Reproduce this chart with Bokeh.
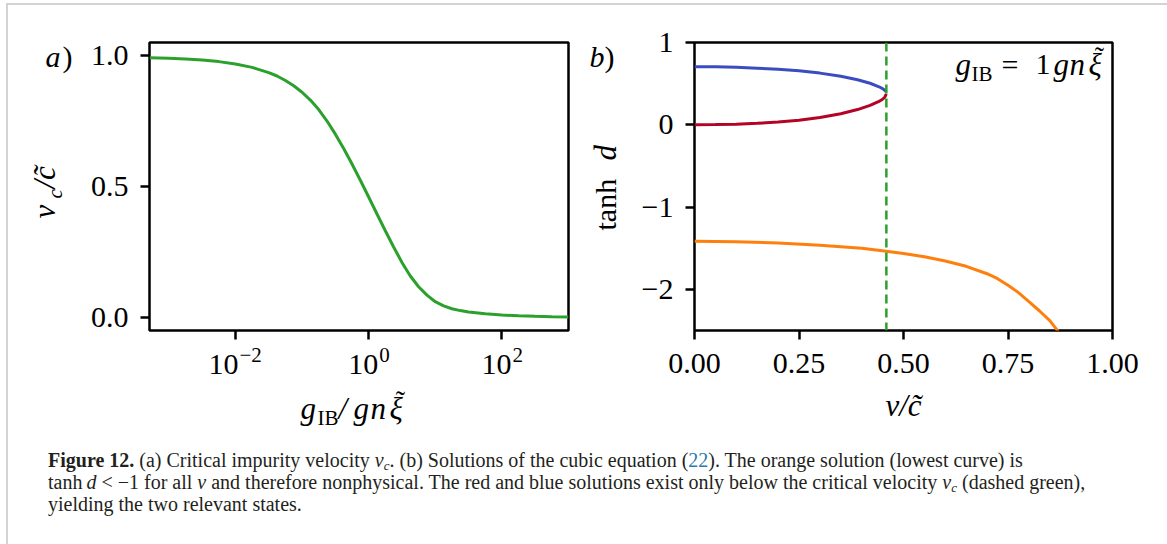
from bokeh.plotting import figure
from bokeh.models import Label, Range1d, FixedTicker, Span, Div, CustomJSTickFormatter
from bokeh.layouts import row, column
from bokeh.embed import file_html
from bokeh.resources import INLINE
import math

# ---------------- data ----------------
log_g_ib = [-3.29, -3.0, -2.75, -2.5, -2.25, -2.0, -1.75, -1.5, -1.375, -1.25, -1.125, -1.0,
            -0.875, -0.75, -0.625, -0.5, -0.375, -0.25, -0.125, 0.0, 0.125, 0.25, 0.375, 0.5,
            0.625, 0.75, 0.875, 1.0, 1.125, 1.25, 1.375, 1.5, 1.75, 2.0, 2.25, 2.5, 2.75, 3.0]
v_crit = [0.992, 0.990, 0.987, 0.983, 0.977, 0.968, 0.955, 0.935, 0.922, 0.905, 0.885, 0.860,
          0.830, 0.794, 0.750, 0.700, 0.645, 0.586, 0.524, 0.460, 0.395, 0.331, 0.269, 0.210,
          0.158, 0.117, 0.085, 0.060, 0.044, 0.033, 0.026, 0.021, 0.014, 0.009, 0.006, 0.004,
          0.0025, 0.0015]

v_blue = [0.0, 0.05, 0.1, 0.15, 0.2, 0.25, 0.3, 0.35, 0.39, 0.42, 0.44, 0.45, 0.455, 0.459]
tanh_blue = [0.706, 0.704, 0.698, 0.688, 0.676, 0.656, 0.628, 0.590, 0.548, 0.505, 0.465, 0.440, 0.420, 0.400]
v_red = [0.0, 0.05, 0.1, 0.15, 0.2, 0.25, 0.3, 0.35, 0.39, 0.42, 0.44, 0.45, 0.455, 0.459]
tanh_red = [0.0, 0.002, 0.008, 0.018, 0.033, 0.055, 0.088, 0.135, 0.185, 0.235, 0.280, 0.310, 0.335, 0.375]
v_orange = [0.0, 0.1, 0.2, 0.3, 0.4, 0.459, 0.5, 0.55, 0.6, 0.65, 0.7, 0.725, 0.75, 0.775,
            0.8, 0.825, 0.85, 0.87]
tanh_orange = [-1.416, -1.421, -1.437, -1.463, -1.500, -1.537, -1.565, -1.603, -1.655, -1.720,
               -1.810, -1.870, -1.950, -2.040, -2.150, -2.260, -2.380, -2.510]
v_critical = 0.459

a_xticks = [1e-2, 1.0, 1e2]
a_xtick_exps = ["\u22122", "0", "2"]
a_yticks = [0.0, 0.5, 1.0]
b_xticks = [0.0, 0.25, 0.5, 0.75, 1.0]
b_yticks = [-2, -1, 0, 1]

# ---------------- layout constants (page pixels) ----------------
FONT = "Liberation Serif"
TS = 30
MS = 31          # math italic size
SS = 21          # sub/superscript size
K_BASE = 0.37    # anchor correction (fraction of font size) so that y is the glyph baseline
LOG_MIN, LOG_MAX = -3.29, 3.0
OX, OY = 8, 5                      # content origin inside the grey border
A_L, A_R = 149, 568                # panel a frame
B_L, B_R = 694, 1112               # panel b frame
F_T, F_B = 42, 330                 # frame top / bottom
ROT = math.pi / 2


def ident(v):
    return v


def bx(px):
    return (px - B_L) / (B_R - B_L)


def by(py):
    return 1.0 - (py - F_T) / (F_B - F_T) * 3.5


def lab(p, px, py, text, size=TS, style="normal", align="left", angle=0.0, fx=ident, fy=ident):
    # (px, py) = page position of the start of the glyph baseline
    if angle:
        px -= K_BASE * size
    else:
        py -= K_BASE * size
    p.add_layout(Label(x=fx(px), y=fy(py), text=text, text_font=FONT,
                       text_font_size=f"{size}px", text_font_style=style, text_align=align,
                       text_baseline="alphabetic", angle=angle, text_color="black"))


def strip(left, top, w, h):
    # text-only area whose data coordinates are page pixels
    s = figure(width=w, height=h, x_range=Range1d(left, left + w), y_range=Range1d(top + h, top),
               min_border=0, toolbar_location=None, output_backend="svg",
               x_axis_location=None, y_axis_location=None, frame_align=False)
    s.outline_line_color = None
    s.background_fill_color = "white"
    s.border_fill_color = "white"
    s.xgrid.visible = False
    s.ygrid.visible = False
    return s


def style_axes(p):
    p.outline_line_color = "black"
    p.outline_line_width = 2.5
    p.xgrid.visible = False
    p.ygrid.visible = False
    p.background_fill_color = "white"
    p.border_fill_color = "white"
    for axis in (p.xaxis[0], p.yaxis[0]):
        axis.axis_line_color = None
        axis.major_tick_line_color = "black"
        axis.major_tick_line_width = 2.5
        axis.major_tick_out = 9
        axis.major_tick_in = 0
        axis.minor_tick_line_color = None
        axis.major_label_text_font = FONT
        axis.major_label_text_font_size = f"{TS}px"
        axis.major_label_text_color = "black"


# ---------------- panel a ----------------
SA_W = 76 - OX                      # left text strip of panel a
PA_ML, PA_MR, PA_MT, PA_MB = A_L - 76, 18, F_T - OY, 14
pa = figure(x_axis_type="log", x_range=Range1d(10 ** LOG_MIN, 10 ** LOG_MAX),
            y_range=Range1d(-0.05, 1.05), frame_width=A_R - A_L, frame_height=F_B - F_T,
            min_border_left=PA_ML, min_border_right=PA_MR, min_border_top=PA_MT,
            min_border_bottom=PA_MB, output_backend="svg", toolbar_location=None,
            frame_align=False)
style_axes(pa)
pa.xaxis.ticker = FixedTicker(ticks=a_xticks, minor_ticks=[])
pa.xaxis.formatter = CustomJSTickFormatter(code="return ''")
pa.xaxis.major_label_text_font_size = "1px"
pa.xaxis.major_label_standoff = 0
pa.yaxis.ticker = FixedTicker(ticks=a_yticks, minor_ticks=[])
pa.yaxis.major_label_overrides = {0.0: "0.0", 0.5: "0.5", 1.0: "1.0"}
pa.yaxis.major_label_standoff = 12

g_vals = [10 ** e for e in log_g_ib]
pa.line(g_vals, v_crit, line_color="#2ca02c", line_width=3)

PA_H = PA_MT + (F_B - F_T) + PA_MB
PA_W = PA_ML + (A_R - A_L) + PA_MR
sa_left = strip(OX, OY, SA_W, PA_H)
lab(sa_left, 45, 67, "a", TS, "italic")
lab(sa_left, 62, 67, ")", TS)
lab(sa_left, 55, 218, "v", MS, "italic", angle=ROT)
lab(sa_left, 62, 198, "c", SS, "italic", angle=ROT)
lab(sa_left, 55, 188, "/c\u0303", MS, "italic", angle=ROT)

SB_TOP = OY + PA_H
sa_bot = strip(OX, SB_TOP, SA_W + PA_W, 435 - SB_TOP)
for t, e in zip(a_xticks, a_xtick_exps):
    tpx = A_L + (math.log10(t) - LOG_MIN) / (LOG_MAX - LOG_MIN) * (A_R - A_L)
    w10 = 30
    wexp = 24 if len(e) > 1 else 11
    start = tpx - (w10 + wexp) / 2
    lab(sa_bot, start, 375, "10", TS)
    lab(sa_bot, start + w10 + 1, 362, e, SS)
lab(sa_bot, 300, 419, "g", MS, "italic")
lab(sa_bot, 317, 425, "IB", SS)
lab(sa_bot, 338, 419, "/", MS, "italic")
lab(sa_bot, 353, 419, "g", MS, "italic")
lab(sa_bot, 370, 419, "n", MS, "italic")
lab(sa_bot, 389, 419, "\u03be", MS, "italic")
lab(sa_bot, 400, 410, "\u02dc", 28, align="center")

# ---------------- panel b ----------------
SBL_L = OX + SA_W + PA_W            # left text strip of panel b
PB_ML, PB_MR, PB_MT, PB_MB = B_L - 622, 48, F_T - OY, 56
pb = figure(x_range=Range1d(0, 1), y_range=Range1d(-2.5, 1.0), frame_width=B_R - B_L,
            frame_height=F_B - F_T, min_border_left=PB_ML, min_border_right=PB_MR,
            min_border_top=PB_MT, min_border_bottom=PB_MB,
            output_backend="svg", toolbar_location=None, frame_align=False)
style_axes(pb)
pb.xaxis.ticker = FixedTicker(ticks=b_xticks, minor_ticks=[])
pb.xaxis.major_label_overrides = {0: "0.00", 0.25: "0.25", 0.5: "0.50", 0.75: "0.75", 1: "1.00"}
pb.xaxis.major_label_standoff = 14
pb.yaxis.ticker = FixedTicker(ticks=b_yticks, minor_ticks=[])
pb.yaxis.major_label_overrides = {-2: "\u22122", -1: "\u22121", 0: "0", 1: "1"}
pb.yaxis.major_label_standoff = 12

pb.line(v_orange, tanh_orange, line_color="#ff7f0e", line_width=3)
pb.line(v_blue, tanh_blue, line_color="#3b4cc0", line_width=3)
pb.line(v_red, tanh_red, line_color="#b40426", line_width=3)
pb.add_layout(Span(location=v_critical, dimension="height", line_color="#2ca02c",
                   line_width=2.5, line_dash="9 5"))

for (px, py, txt, sz, st, al) in [
        (955, 75, "g", MS, "italic", "left"), (971, 81, "IB", SS, "normal", "left"),
        (1001, 75, "=", TS, "normal", "left"), (1035, 75, "1", TS, "normal", "left"),
        (1053, 75, "g", MS, "italic", "left"), (1069, 75, "n", MS, "italic", "left"),
        (1088, 75, "\u03be", MS, "italic", "left"), (1099, 66, "\u02dc", 28, "normal", "center")]:
    lab(pb, px, py, txt, sz, st, al, fx=bx, fy=by)

PB_H = PB_MT + (F_B - F_T) + PB_MB
PB_W = PB_ML + (B_R - B_L) + PB_MR
SBL_W = 622 - SBL_L
sb_left = strip(SBL_L, OY, SBL_W, PB_H)
lab(sb_left, 589, 67, "b", TS, "italic")
lab(sb_left, 604, 67, ")", TS)
lab(sb_left, 616, 230, "tanh", TS, angle=ROT)
lab(sb_left, 616, 160, "d", MS, "italic", angle=ROT)

SBB_TOP = OY + PB_H
sb_bot = strip(SBL_L, SBB_TOP, SBL_W + PB_W, 435 - SBB_TOP)
lab(sb_bot, 903, 416, "v/c\u0303", MS, "italic", align="center")

# ---------------- caption ----------------
caption = ("<div style=\"font-family:'Liberation Serif',serif;font-size:20px;line-height:22px;"
           "color:#231f20;padding:9px 0 0 35px;width:1100px;\">"
           "<b>Figure 12.</b> (a) Critical impurity velocity <i>v<span style='font-size:13px;"
           "vertical-align:-3px;line-height:0'>c</span></i>. "
           "(b) Solutions of the cubic equation (<span style='color:#2a7ab0'>22</span>). "
           "The orange solution (lowest curve) is<br>"
           "tanh&#8201;<i>d</i> &lt; &minus;1 for all <i>v</i> and therefore nonphysical. "
           "The red and blue solutions exist only below the critical velocity "
           "<i>v<span style='font-size:13px;vertical-align:-3px;line-height:0'>c</span></i> "
           "(dashed green),<br>yielding the two relevant states.</div>")
cap = Div(text=caption, width=1152, height=100)

col_a = column(row(sa_left, pa, spacing=0), sa_bot, spacing=0)
col_b = column(row(sb_left, pb, spacing=0), sb_bot, spacing=0)
root = column(row(col_a, col_b, spacing=0), cap, spacing=0,
              styles={"border": "2px solid #d3d3d3", "margin-left": "6px", "margin-top": "3px"})

open("out.html", "w").write(file_html(root, INLINE))
